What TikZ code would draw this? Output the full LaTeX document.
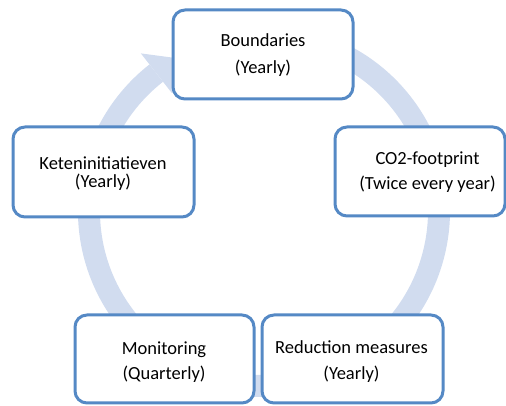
\documentclass[tikz,border=0pt]{standalone}
\usepackage{fontspec}
\setmainfont{Carlito}
\usetikzlibrary{calc}
\definecolor{boxblue}{RGB}{85,137,197}
\definecolor{ringblue}{RGB}{209,220,239}
\begin{document}
\begin{tikzpicture}[x=1pt,y=1pt,
  box/.style={draw=boxblue, line width=3pt, fill=white, rounded corners=12pt, rectangle, inner sep=0pt},
  lbl/.style={font=\fontsize{18.5}{22}\selectfont, anchor=base, inner sep=0pt}]
\useasboundingbox (0,0) rectangle (506,406);
\coordinate (c) at (264,195);
% ring
\fill[ringblue] ($(c)+(80:186)$) arc[start angle=80,end angle=-232,radius=186]
   -- ($(c)+(-232:164)$) arc[start angle=-232,end angle=80,radius=164] -- cycle;
\fill[ringblue] ($(c)+(128:200)$) -- ($(c)+(117:170)$) -- ($(c)+(128:150)$) -- cycle;
% boxes
\node[box, minimum width=180pt, minimum height=89pt] (bnd) at (263,351.5) {};
\node[box, minimum width=181pt, minimum height=90pt] (ket) at (103.5,234) {};
\node[box, minimum width=170pt, minimum height=89pt] (co2) at (420,234.5) {};
\node[box, minimum width=179pt, minimum height=88pt] (mon) at (164.5,47) {};
\node[box, minimum width=181pt, minimum height=88pt] (red) at (352.5,47) {};
% texts
\node[lbl] (bnd1) at (263,359) {Boundaries};
\node[lbl] (bnd2) at (263,332) {(Yearly)};
\node[lbl] (ket1) at (103,236) {Keteninitiatieven};
\node[lbl] (ket2) at (103,218) {(Yearly)};
\node[lbl] (co21) at (427.5,241) {CO2-footprint};
\node[lbl] (co22) at (427.5,216) {(Twice every year)};
\node[lbl] (mon1) at (164,51) {Monitoring};
\node[lbl] (mon2) at (164,26) {(Quarterly)};
\node[lbl] (red1) at (351.5,52) {Reduction measures};
\node[lbl] (red2) at (351.5,26) {(Yearly)};
\end{tikzpicture}
\end{document}
